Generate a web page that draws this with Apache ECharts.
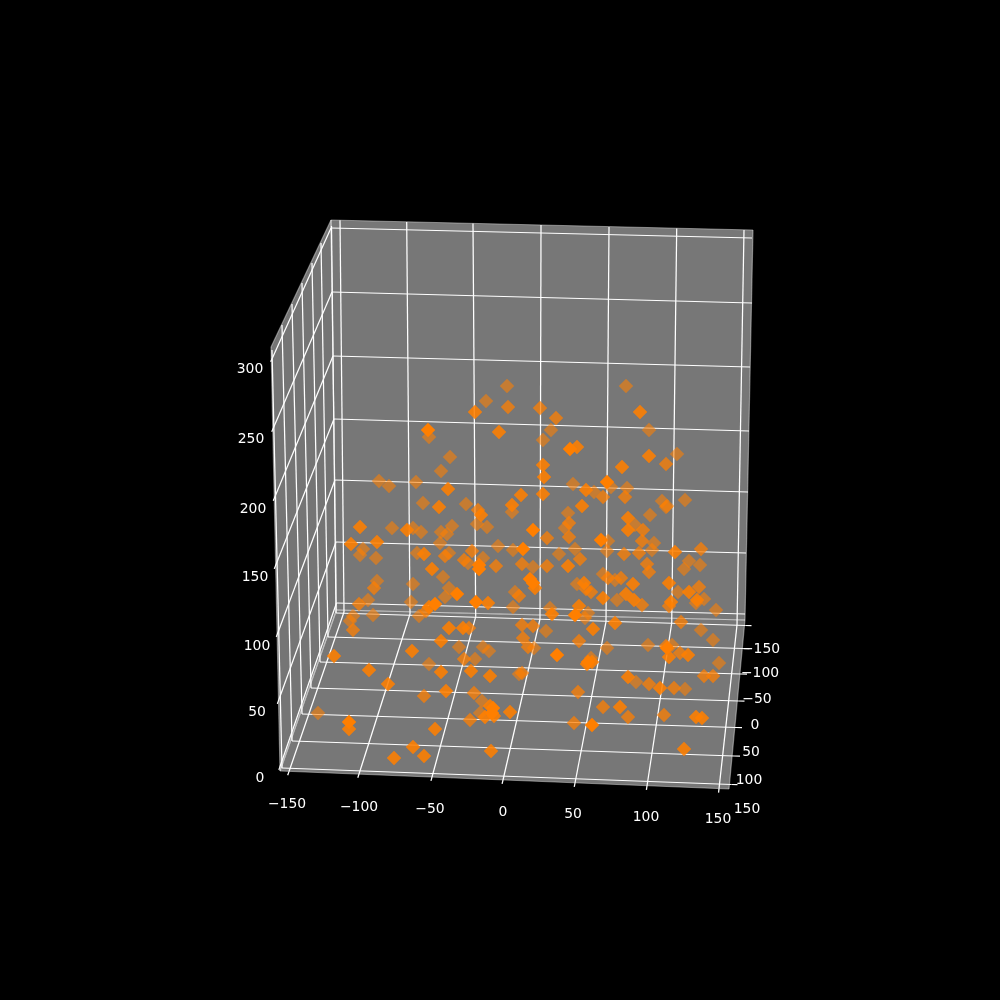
<!DOCTYPE html>
<html><head><meta charset="utf-8">
<style>html,body{margin:0;padding:0;background:#000}#c{width:1000px;height:1000px}</style>
<script src="https://cdn.jsdelivr.net/npm/echarts@6/dist/echarts.min.js"></script>
</head><body><div id="c"></div>
<script>
// Tick labels
const xTicks = ['−150','−100','−50','0','50','100','150'];
const yTicks = ['−150','−100','−50','0','50','100','150'];
const zTicks = ['300','250','200','150','100','50','0'];

// Points (projected x, projected y), grouped by depth shade
const farPoints = [[507,386],[486,401],[429,437],[450,457],[441,471],[379,481],[389,486],[416,482],[423,503],[466,504],
[626,386],[551,430],[649,430],[543,440],[677,454],[573,484],[594,492],[611,487],[627,488],[662,501],[667,506],[685,500],
[392,528],[413,528],[421,532],[441,532],[447,534],[452,526],[477,524],[487,527],[512,512],[363,549],[360,555],[376,558],[417,553],[440,543],[449,553],[483,558],[468,563],[498,546],[513,550],
[443,577],[413,584],[377,581],[449,588],[445,597],[515,592],[513,607],[368,600],[411,602],[373,615],[353,616],[350,621],[419,616],
[568,513],[565,528],[635,525],[650,515],[666,507],[654,543],[608,541],[575,549],[559,554],[607,551],[652,550],[689,561],[684,569],[700,565],[533,567],[603,574],[615,580],[577,584],
[617,600],[678,592],[704,599],[696,603],[716,610],[550,608],[588,613],[585,618],[546,631],[701,630],
[318,713],[459,647],[429,664],[475,659],[483,647],[489,651],[482,701],[480,713],[519,674],
[534,648],[607,648],[591,658],[648,645],[672,645],[713,640],[719,663],[636,682],[685,689]];
const midFarPoints = [[508,407],[540,408],[556,418],[666,464],[603,497],[625,497],[478,510],[472,551],[445,556],[464,560],[496,566],[522,564],[374,588],[519,596],[359,604],[426,611],[469,628],[353,630],[522,625],
[569,523],[569,537],[547,538],[643,530],[642,541],[580,559],[624,554],[639,553],[701,549],[647,564],[649,572],[547,566],[608,578],[621,578],[586,589],[591,592],[642,605],[699,587],[669,606],[681,622],[533,626],
[464,659],[424,696],[474,693],[470,720],[522,673],[523,638],[528,647],[579,641],[578,692],[666,646],[680,653],[704,676],[713,676],[649,684],[674,688],[603,707],[628,717],[664,715],[574,723]];
const midPoints = [[475,412],[499,432],[448,489],[439,507],[521,495],[512,505],[622,467],[543,465],[544,477],[543,494],[586,490],[640,412],[649,456],[577,447],[582,506],[481,515],
[360,527],[407,530],[351,544],[377,542],[424,554],[432,569],[488,603],[429,607],[449,628],[463,628],[535,588],
[628,518],[628,530],[568,566],[633,584],[669,583],[584,583],[603,598],[626,594],[634,600],[689,592],[697,600],[579,606],[615,623],[593,629],[675,552],[671,602],[552,614],
[334,656],[369,670],[388,684],[349,729],[412,651],[441,641],[441,672],[446,691],[435,729],[413,747],[424,756],[394,758],[491,751],[471,671],[490,676],[485,717],[490,706],[494,716],[510,712],
[587,664],[592,662],[669,657],[688,655],[628,677],[660,688],[620,707],[696,717],[702,718],[684,749]];
const nearPoints = [[428,430],[570,449],[607,482],[479,565],[479,569],[523,549],[457,594],[476,602],[435,604],[533,530],[530,579],[533,583],[601,540],[575,615],
[349,722],[493,708],[492,713],[557,655],[588,662],[667,648],[592,725]];

// Box of the view, in the same projected units
const paneBack  = [[331,220],[753,230],[745,620],[336.5,610]];
const paneLeft  = [[331,220],[336.5,610],[280,771],[271,347]];
const paneFloor = [[336.5,610],[745,620],[729,789],[280,771]];

const backXTop    = [[340,220.3],[406.7,222],[473,223.5],[541,225],[609,227],[676.7,228.5],[744,230]];
const backXBottom = [[344,612],[410,614],[475.7,616.7],[540,619],[606,621.7],[671.7,623],[737,625]];
const floorXFront = [[289,771.5],[359,774],[432,777],[503,780],[575,783],[647,786],[719,788.6]];
const backZLeft   = [[331,228],[332,292],[333,356],[334,419],[335,480],[336,542],[336.5,603]];
const backZRight  = [[752,238],[752,303],[750,367],[749,431],[748,492],[746,553],[745,614]];
const leftZFront  = [[271.5,360],[272.5,430],[274,499],[275,567],[277,635],[278,702],[279.5,768]];
const floorYLeft  = [[336,613],[328,637],[320,662],[311,688],[302,714],[292,741],[282,768]];
const floorYRight = [[745.5,625.5],[743.5,648.5],[741,674],[738.5,701],[736,727.5],[734,756],[731.5,784.5]];
const leftYTop    = [[331.5,226],[321,243],[312,263],[302,283],[292,304],[282,325],[272,350]];

const xLabelAt = [[287,804.5],[359,807],[430,809.5],[503,812],[573,814.5],[646,817],[718,819]];
const yLabelAt = [[761,649],[760,673],[757,699],[755,725],[751,752],[749,780],[747,809]];
const zLabelAt = [[250,369],[251,439],[253,509],[255,577],[257,646],[257,712],[260,778]];

function extend(a, b, len) {
  const dx = b[0]-a[0], dy = b[1]-a[1], d = Math.hypot(dx,dy);
  return [b[0]+dx/d*len, b[1]+dy/d*len];
}
const gridSegs = [], tickSegs = [];
function seg(a,b){ gridSegs.push([a[0],a[1],b[0],b[1]]); }
function tick(a,b,len){ const e=extend(a,b,len); tickSegs.push([b[0],b[1],e[0],e[1]]); }
for (let i=0;i<7;i++){
  seg(backXTop[i],backXBottom[i]);
  seg(backXBottom[i],floorXFront[i]); tick(backXBottom[i],floorXFront[i],4);
  seg(backZLeft[i],backZRight[i]);
  seg(backZLeft[i],leftZFront[i]); tick(backZLeft[i],leftZFront[i],2);
  seg(floorYLeft[i],floorYRight[i]); tick(floorYLeft[i],floorYRight[i],6);
  seg(leftYTop[i],floorYLeft[i]);
}
const paneEdges = [];
[paneBack,paneLeft,paneFloor].forEach(p=>p.forEach((q,i)=>{const r=p[(i+1)%p.length];paneEdges.push([q[0],q[1],r[0],r[1]]);}));

function lineItem(color,width){
  return (params,api)=>{
    const a=api.coord([api.value(0),api.value(1)]), b=api.coord([api.value(2),api.value(3)]);
    return {type:'line',shape:{x1:a[0],y1:a[1],x2:b[0],y2:b[1]},style:{stroke:color,lineWidth:width,fill:null}};
  };
}
function polySeries(poly,color){
  return {type:'custom',coordinateSystem:'cartesian2d',silent:true,z:1,clip:false,
    data:[poly.flat()],encode:{x:[0,2,4,6],y:[1,3,5,7]},
    renderItem:(params,api)=>({type:'polygon',shape:{points:poly.map((_,i)=>api.coord([api.value(2*i),api.value(2*i+1)]))},style:{fill:color,stroke:null}})};
}
function segSeries(data,color,width,z){
  return {type:'custom',coordinateSystem:'cartesian2d',silent:true,z:z,clip:false,data:data,
    encode:{x:[0,2],y:[1,3]},renderItem:lineItem(color,width)};
}
function pointSeries(data,opacity,z){
  return {type:'scatter',symbol:'diamond',symbolSize:14.5,silent:true,z:z,data:data,
    itemStyle:{color:'#ff7f00',opacity:opacity}};
}
function labelSeries(labels,at){
  return {type:'scatter',symbolSize:0,silent:true,z:9,clip:false,
    itemStyle:{opacity:1},
    data:at.map((p,i)=>({value:p,name:labels[i]})),
    label:{show:true,position:'inside',formatter:'{b}',color:'#ffffff',opacity:1,fontFamily:'DejaVu Sans',fontSize:13.9}};
}

const chart = echarts.init(document.getElementById('c'),null,{renderer:'canvas'});
chart.setOption({
  backgroundColor:'#000',animation:false,
  grid:{left:0,right:0,top:0,bottom:0},
  xAxis:{type:'value',min:0,max:1000,show:false},
  yAxis:{type:'value',min:0,max:1000,inverse:true,show:false},
  series:[
    polySeries(paneLeft,'#757575'),
    polySeries(paneBack,'#777777'),
    polySeries(paneFloor,'#777777'),
    segSeries(paneEdges,'rgba(255,255,255,0.4)',1.2,2),
    segSeries(gridSegs,'#ffffff',1.25,3),
    segSeries(tickSegs,'#ffffff',1.25,3),
    pointSeries(farPoints,0.58,4),
    pointSeries(midFarPoints,0.74,5),
    pointSeries(midPoints,0.88,6),
    pointSeries(nearPoints,1,7),
    labelSeries(xTicks,xLabelAt),
    labelSeries(yTicks,yLabelAt),
    labelSeries(zTicks,zLabelAt)
  ]
});
</script></body></html>
